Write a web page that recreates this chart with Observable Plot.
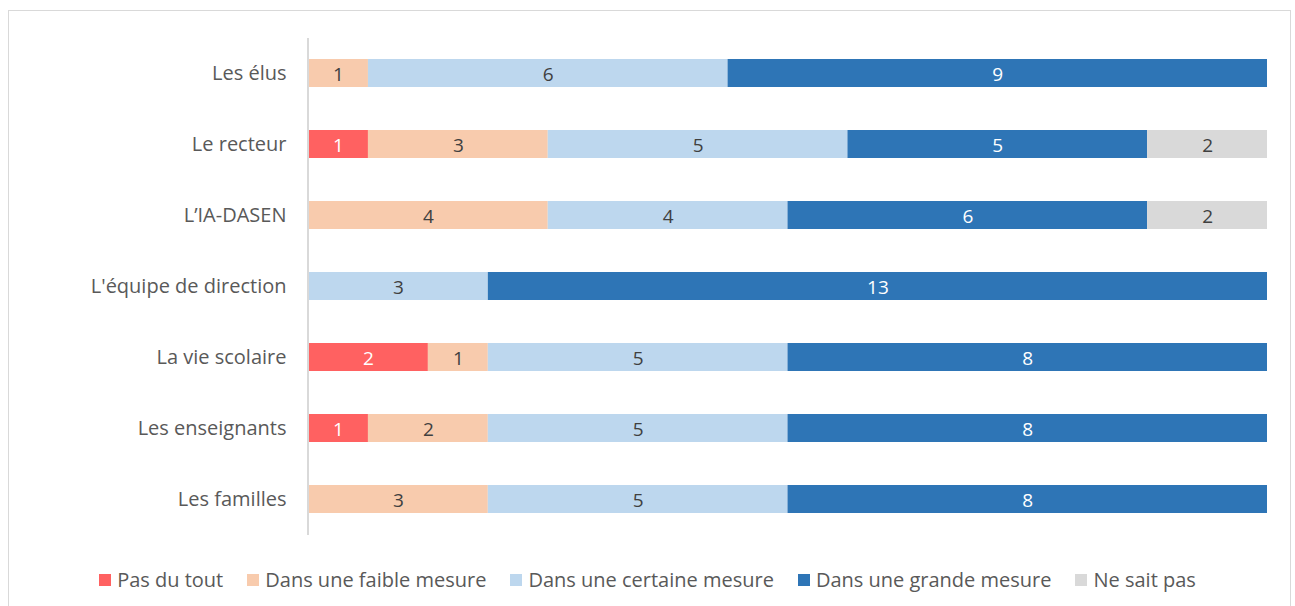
<!DOCTYPE html>
<html>
<head>
<meta charset="utf-8">
<script src="https://cdn.jsdelivr.net/npm/d3@7"></script>
<script src="https://cdn.jsdelivr.net/npm/@observablehq/plot@0.6"></script>
<style>
  html, body { margin: 0; padding: 0; background: #fff; }
  body { width: 1295px; height: 606px; position: relative; overflow: hidden; font-family: "Open Sans", "Noto Sans", sans-serif; }
  #frame { position: absolute; left: 8px; top: 10px; width: 1283px; height: 620px; border: 1px solid #d9d9d9; box-sizing: border-box; }
  #chart { position: absolute; left: 0; top: 0; }
  #legend { position: absolute; left: 0; top: 566px; width: 1295px; display: flex; justify-content: center; font-size: 20px; color: #595959; }
  .item { display: flex; align-items: center; margin: 0 12px; white-space: nowrap; }
  .sw { width: 12px; height: 12px; margin-right: 6px; display: inline-block; }
</style>
</head>
<body>
<div id="frame"></div>
<div id="chart"></div>
<div id="legend"></div>
<script>
const categories = ["Les élus", "Le recteur", "L\u2019IA-DASEN", "L'équipe de direction", "La vie scolaire", "Les enseignants", "Les familles"];
const series = ["Pas du tout", "Dans une faible mesure", "Dans une certaine mesure", "Dans une grande mesure", "Ne sait pas"];
const colors = ["#FF6161", "#F8CBAD", "#BDD7EE", "#2E75B6", "#D9D9D9"];
const pasDuTout      = [0, 1, 0, 0, 2, 1, 0];
const faibleMesure   = [1, 3, 4, 0, 1, 2, 3];
const certaineMesure = [6, 5, 4, 3, 5, 5, 5];
const grandeMesure   = [9, 5, 6, 13, 8, 8, 8];
const neSaitPas      = [0, 2, 2, 0, 0, 0, 0];

const seriesValues = [pasDuTout, faibleMesure, certaineMesure, grandeMesure, neSaitPas];
const darkText = new Set(["Pas du tout", "Dans une grande mesure"]);

const data = [];
seriesValues.forEach((vals, si) => {
  vals.forEach((v, ci) => {
    if (v > 0) data.push({cat: categories[ci], series: series[si], value: v});
  });
});

const W = 1295, H = 560;
const stackOpts = (text) => Plot.stackX({x: "value", y: "cat", z: "series", order: series, text});

const chart = Plot.plot({
  width: W,
  height: H,
  marginLeft: 308,
  marginRight: 28,
  marginTop: 38,
  marginBottom: H - 535,
  style: {fontFamily: "'Open Sans', 'Noto Sans', sans-serif", fontSize: "20px", color: "#595959", background: "transparent"},
  x: {domain: [0, 16], axis: null},
  y: {domain: categories, paddingInner: 0.605, paddingOuter: 0.3025, align: 0.5, label: null, tickSize: 0, tickPadding: 22},
  color: {domain: series, range: colors},
  marks: [
    Plot.barX(data, Plot.stackX({x: "value", y: "cat", fill: "series", order: series})),
    Plot.text(data, {...stackOpts(d => darkText.has(d.series) ? String(d.value) : ""), fill: "white", fontSize: 19, dy: 1}),
    Plot.text(data, {...stackOpts(d => darkText.has(d.series) ? "" : String(d.value)), fill: "#404040", fontSize: 19, dy: 1})
  ]
});
document.getElementById("chart").appendChild(chart);

// vertical axis line spanning the plot area
d3.select(chart).append("line").attr("x1", 308).attr("x2", 308).attr("y1", 38).attr("y2", 535)
  .attr("stroke", "#d9d9d9").attr("stroke-width", 2);

const legend = document.getElementById("legend");
series.forEach((s, i) => {
  const it = document.createElement("div");
  it.className = "item";
  const sw = document.createElement("span");
  sw.className = "sw";
  sw.style.background = colors[i];
  it.appendChild(sw);
  it.appendChild(document.createTextNode(s));
  legend.appendChild(it);
});
</script>
</body>
</html>
